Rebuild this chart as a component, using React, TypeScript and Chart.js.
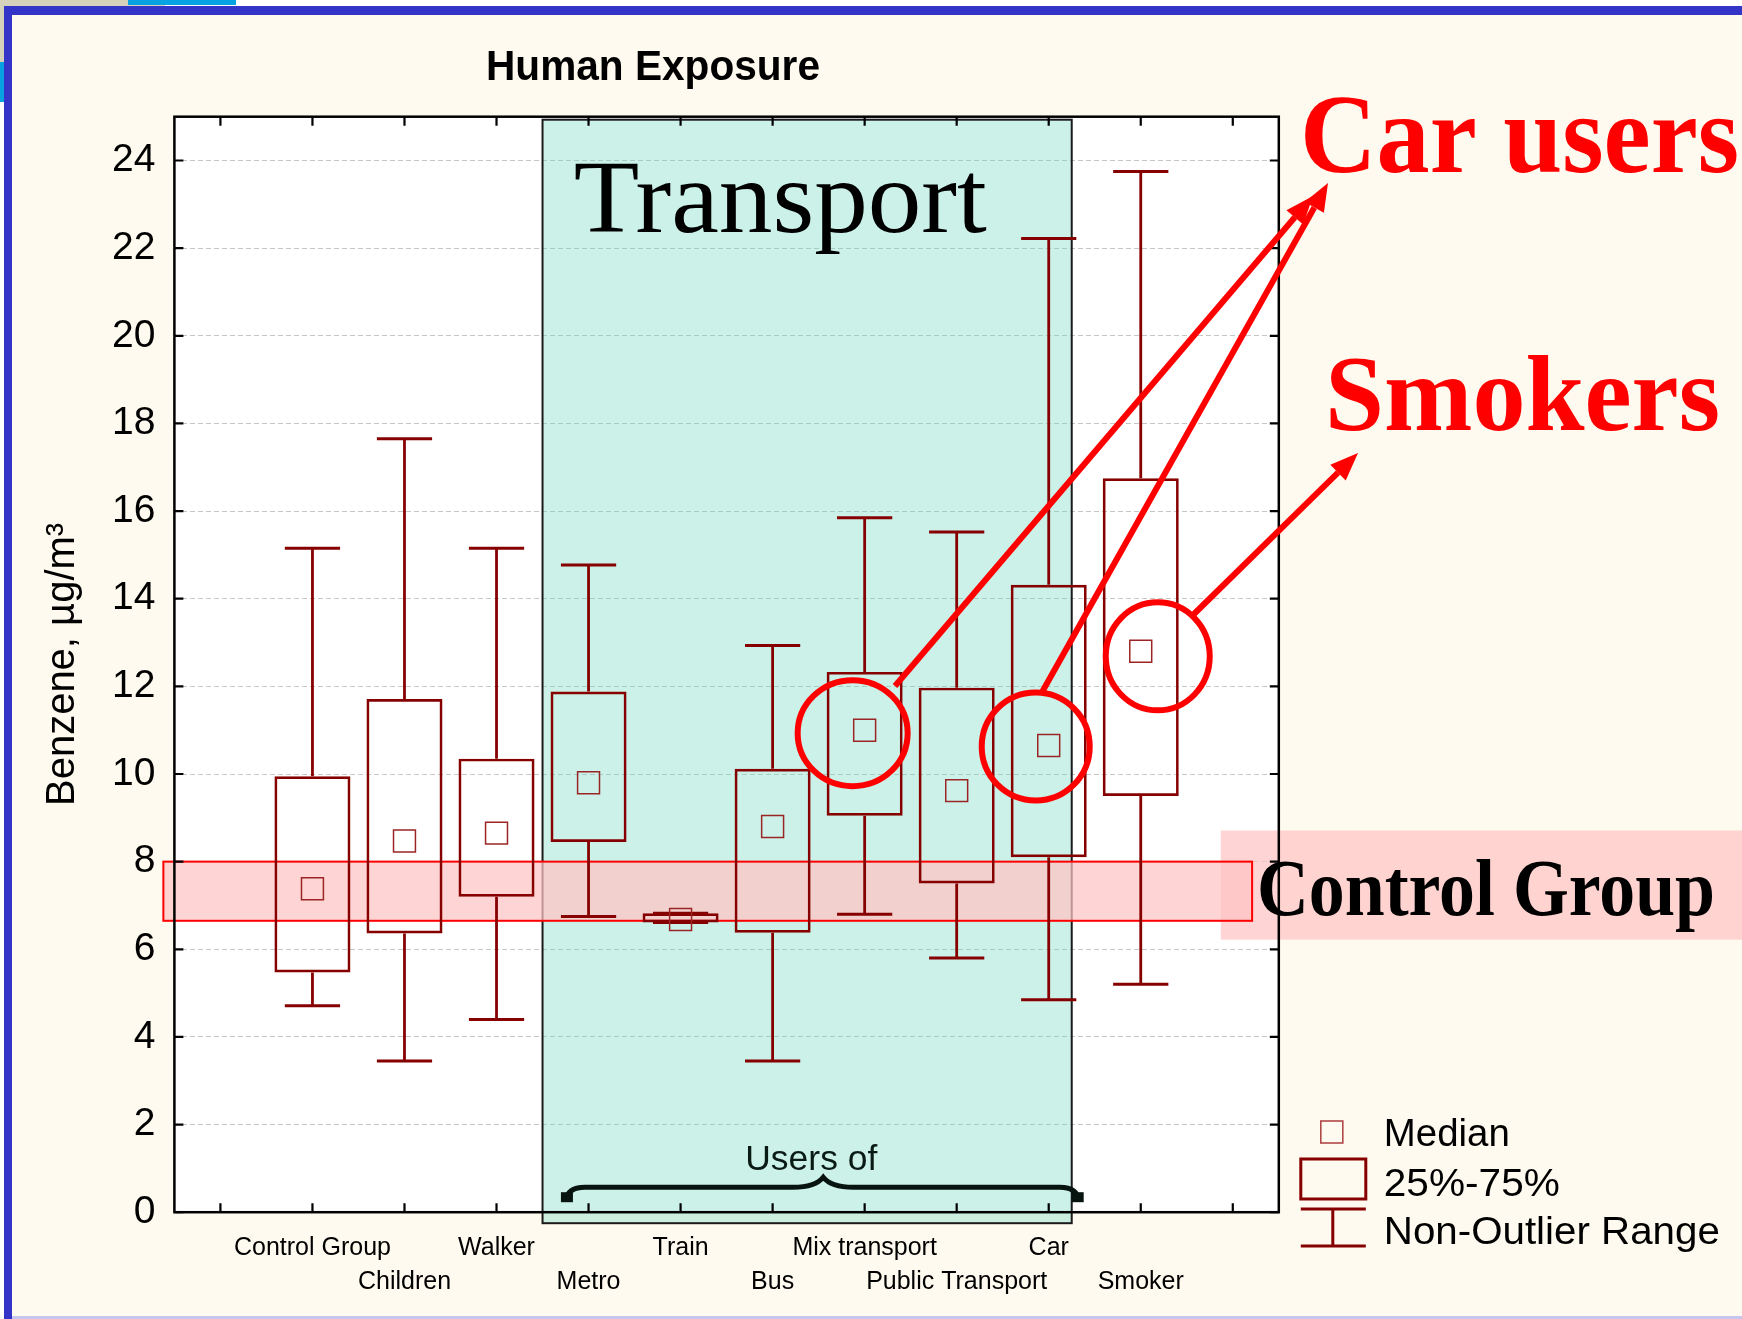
import React, { useEffect, useRef } from 'react';
import { Chart, registerables } from 'chart.js';

Chart.register(...registerables);

// ---------------- data ----------------
const categories = [
  'Control Group',
  'Children',
  'Walker',
  'Metro',
  'Train',
  'Bus',
  'Mix transport',
  'Public Transport',
  'Car',
  'Smoker',
];
const whiskerLow = [4.71, 3.45, 4.4, 6.75, 6.61, 3.45, 6.8, 5.8, 4.85, 5.2];
const quartile1 = [5.47, 6.36, 7.2, 8.45, 6.61, 6.38, 9.05, 7.5, 8.1, 9.5];
const medians = [7.38, 8.47, 8.65, 9.8, 6.68, 8.8, 11.0, 9.62, 10.65, 12.8];
const quartile3 = [9.95, 11.71, 10.35, 11.88, 6.82, 10.12, 12.33, 11.97, 14.32, 16.75];
const whiskerHigh = [15.15, 17.65, 15.15, 14.77, 6.82, 12.93, 15.85, 15.52, 22.22, 23.75];

const yMin = 0;
const yMax = 25;
const yStep = 2;

// control-group reference band (µg/m³) and transport span (category units)
const controlBand = [6.65, 8.0];
const transportSpan = [3.5, 9.25];
// highlighted groups (category index) for red circles
const highlighted = [6, 8, 9];

// ---------------- styles ----------------
const SANS = '"Liberation Sans", Arial, Helvetica, sans-serif';
const SERIF = '"Liberation Serif", "Times New Roman", Times, serif';
const BOX = '#860000';
const MED = '#9b2525';
const RED = '#ff0000';
const PINK = 'rgba(255,196,196,0.72)';
const CAP = 0.3;

function fitText(
  ctx: CanvasRenderingContext2D,
  text: string,
  x: number,
  y: number,
  width: number,
  font: string,
  color: string
) {
  ctx.save();
  ctx.font = font;
  ctx.fillStyle = color;
  ctx.textAlign = 'left';
  ctx.textBaseline = 'alphabetic';
  const w = ctx.measureText(text).width;
  ctx.translate(x, y);
  ctx.scale(width / w, 1);
  ctx.fillText(text, 0, 0);
  ctx.restore();
}

function arrow(ctx: CanvasRenderingContext2D, x1: number, y1: number, x2: number, y2: number) {
  const ang = Math.atan2(y2 - y1, x2 - x1);
  const L = 28;
  const W = 11;
  const bx = x2 - L * Math.cos(ang);
  const by = y2 - L * Math.sin(ang);
  ctx.beginPath();
  ctx.moveTo(x1, y1);
  ctx.lineTo(bx, by);
  ctx.stroke();
  ctx.beginPath();
  ctx.moveTo(x2, y2);
  ctx.lineTo(bx + W * Math.sin(ang), by - W * Math.cos(ang));
  ctx.lineTo(bx - W * Math.sin(ang), by + W * Math.cos(ang));
  ctx.closePath();
  ctx.fill();
}

const decorPlugin = {
  id: 'decor',
  beforeDraw(chart: any) {
    const { ctx, width, height, chartArea: ca } = chart;
    ctx.save();
    ctx.fillStyle = '#ffffff';
    ctx.fillRect(0, 0, width, height);
    // slide remnants top-left
    ctx.fillStyle = '#d5d1bb';
    ctx.fillRect(0, 0, 165, 6);
    ctx.fillRect(0, 0, 4, 64);
    ctx.fillStyle = '#06a2e2';
    ctx.fillRect(128, 0, 108, 5);
    ctx.fillRect(0, 62, 4, 40);
    // slide background
    ctx.fillStyle = '#fffaef';
    ctx.fillRect(12, 15, width - 12, height - 18);
    ctx.fillStyle = '#3434c8';
    ctx.fillRect(4, 6, width - 4, 9);
    ctx.fillRect(4, 6, 8, height - 6);
    ctx.fillStyle = '#c6c6ee';
    ctx.fillRect(12, height - 3, width - 12, 3);
    // plot area
    ctx.fillStyle = '#ffffff';
    ctx.fillRect(ca.left, ca.top, ca.width, ca.height);
    ctx.restore();
  },
  beforeDatasetsDraw(chart: any) {
    const { ctx, chartArea: ca, scales } = chart;
    const xs = scales.x;
    const ys = scales.y;
    ctx.save();
    // transport shaded region
    const tx1 = xs.getPixelForValue(transportSpan[0]);
    const tx2 = xs.getPixelForValue(transportSpan[1]);
    const ty1 = ca.top + 3;
    const ty2 = ca.bottom + 11;
    ctx.fillStyle = 'rgba(110,215,195,0.36)';
    ctx.fillRect(tx1, ty1, tx2 - tx1, ty2 - ty1);
    ctx.strokeStyle = '#1a1a1a';
    ctx.lineWidth = 2;
    ctx.strokeRect(tx1, ty1, tx2 - tx1, ty2 - ty1);
    // Transport label
    fitText(ctx, 'Transport', xs.getPixelForValue(3.84), ys.getPixelForValue(22.38), 413, `104px ${SERIF}`, '#000');
    // right pink band behind "Control Group"
    const ry1 = ys.getPixelForValue(8.71);
    const ry2 = ys.getPixelForValue(6.22);
    const rx1 = xs.getPixelForValue(10.87);
    ctx.fillStyle = PINK;
    ctx.fillRect(rx1, ry1, chart.width - rx1, ry2 - ry1);
    // control group band
    const bx1 = xs.getPixelForValue(-0.62);
    const bx2 = xs.getPixelForValue(11.21);
    const by1 = ys.getPixelForValue(controlBand[1]);
    const by2 = ys.getPixelForValue(controlBand[0]);
    ctx.fillStyle = PINK;
    ctx.fillRect(bx1, by1, bx2 - bx1, by2 - by1);
    ctx.strokeStyle = RED;
    ctx.lineWidth = 2;
    ctx.strokeRect(bx1, by1, bx2 - bx1, by2 - by1);
    ctx.restore();
  },
  afterDatasetsDraw(chart: any) {
    const { ctx, chartArea: ca, scales } = chart;
    const xs = scales.x;
    const ys = scales.y;
    ctx.save();
    // frame
    ctx.strokeStyle = '#000';
    ctx.lineWidth = 2.5;
    ctx.strokeRect(ca.left, ca.top, ca.width, ca.height);
    // inward ticks
    ctx.lineWidth = 2.2;
    ctx.beginPath();
    ys.ticks.forEach((t: any) => {
      const y = ys.getPixelForValue(t.value);
      ctx.moveTo(ca.left, y);
      ctx.lineTo(ca.left + 9, y);
      ctx.moveTo(ca.right - 9, y);
      ctx.lineTo(ca.right, y);
    });
    xs.ticks.forEach((t: any) => {
      const x = xs.getPixelForValue(t.value);
      ctx.moveTo(x, ca.top);
      ctx.lineTo(x, ca.top + 9);
      ctx.moveTo(x, ca.bottom - 9);
      ctx.lineTo(x, ca.bottom);
    });
    ctx.stroke();

    // brace "Users of"
    const L = xs.getPixelForValue(3.7);
    const R = xs.getPixelForValue(9.38);
    const P = xs.getPixelForValue(6.55);
    const arm = ca.bottom - 25;
    const peak = ca.bottom - 35;
    const end = ca.bottom - 12;
    ctx.strokeStyle = '#07140f';
    ctx.fillStyle = '#07140f';
    ctx.lineWidth = 5;
    ctx.beginPath();
    ctx.moveTo(L + 6, end);
    ctx.quadraticCurveTo(L + 6, arm, L + 24, arm);
    ctx.lineTo(P - 30, arm);
    ctx.quadraticCurveTo(P - 8, arm, P, peak);
    ctx.quadraticCurveTo(P + 8, arm, P + 30, arm);
    ctx.lineTo(R - 24, arm);
    ctx.quadraticCurveTo(R - 6, arm, R - 6, end);
    ctx.stroke();
    ctx.fillRect(L, end - 8, 12, 10);
    ctx.fillRect(R - 12, end - 8, 12, 10);
    fitText(ctx, 'Users of', xs.getPixelForValue(6.42) - 66, ca.bottom - 42, 132, `35px ${SANS}`, '#0a1a14');

    // red circles around highlighted medians
    const offs = [
      [-12, 3, 55, 53],
      [-13, 1, 54, 54],
      [17, 5, 52, 54],
    ];
    ctx.strokeStyle = RED;
    ctx.fillStyle = RED;
    ctx.lineWidth = 6;
    highlighted.forEach((ci, k) => {
      const cx = xs.getPixelForValue(ci + 1) + offs[k][0];
      const cy = ys.getPixelForValue(medians[ci]) + offs[k][1];
      ctx.beginPath();
      ctx.ellipse(cx, cy, offs[k][2], offs[k][3], 0, 0, Math.PI * 2);
      ctx.stroke();
    });
    // arrows
    ctx.lineWidth = 6;
    ctx.lineCap = 'butt';
    arrow(ctx, 895, 686, 1313, 196);
    arrow(ctx, 1041, 694, 1328, 183);
    arrow(ctx, 1194, 614, 1358, 453);

    // titles / annotations
    fitText(ctx, 'Human Exposure', 486, 80, 334, `bold 42px ${SANS}`, '#000');
    fitText(ctx, 'Car users', 1300, 172, 439, `bold 112px ${SERIF}`, RED);
    fitText(ctx, 'Smokers', 1325, 430, 395, `bold 109px ${SERIF}`, RED);
    fitText(ctx, 'Control Group', 1257, 915, 458, `bold 80px ${SERIF}`, '#000');

    // legend
    const lx = ca.right + 22;
    ctx.strokeStyle = '#b04848';
    ctx.lineWidth = 1.6;
    ctx.strokeRect(lx + 20, 1121, 22, 22);
    ctx.strokeStyle = BOX;
    ctx.lineWidth = 3;
    ctx.strokeRect(lx, 1159, 65, 40);
    ctx.beginPath();
    ctx.moveTo(lx, 1209);
    ctx.lineTo(lx + 65, 1209);
    ctx.moveTo(lx, 1246);
    ctx.lineTo(lx + 65, 1246);
    ctx.moveTo(lx + 32, 1209);
    ctx.lineTo(lx + 32, 1246);
    ctx.stroke();
    fitText(ctx, 'Median', lx + 83, 1146, 126, `38px ${SANS}`, '#000');
    fitText(ctx, '25%-75%', lx + 83, 1196, 176, `38px ${SANS}`, '#000');
    fitText(ctx, 'Non-Outlier Range', lx + 83, 1244, 336, `38px ${SANS}`, '#000');
    ctx.restore();
  },
};

function xLabel(v: number): string | string[] {
  const i = Math.round(v) - 1;
  if (i < 0 || i >= categories.length) return ['', ''];
  return i % 2 === 0 ? [categories[i], ''] : ['', categories[i]];
}

export default function App() {
  const ref = useRef<HTMLCanvasElement>(null);

  useEffect(() => {
    document.body.style.margin = '0';
    const canvas = ref.current;
    if (!canvas) return;

    const pos = categories.map((_, i) => i + 1);
    const boxData = pos.map((x, i) => ({ x, y: [quartile1[i], quartile3[i]] }));
    const whiskerData: any[] = [];
    const capData: any[] = [];
    pos.forEach((x, i) => {
      whiskerData.push({ x, y: whiskerLow[i] }, { x, y: quartile1[i] }, { x, y: null });
      whiskerData.push({ x, y: quartile3[i] }, { x, y: whiskerHigh[i] }, { x, y: null });
      capData.push({ x: x - CAP, y: whiskerHigh[i] }, { x: x + CAP, y: whiskerHigh[i] }, { x, y: null });
      capData.push({ x: x - CAP, y: whiskerLow[i] }, { x: x + CAP, y: whiskerLow[i] }, { x, y: null });
    });
    const medianData = pos.map((x, i) => ({ x, y: medians[i] }));
    // tick slots: one empty slot either side of the categories
    const xTickValues = [0, ...pos, categories.length + 1];

    const chart = new Chart(canvas, {
      type: 'bar',
      data: {
        datasets: [
          {
            type: 'line',
            label: 'Median',
            data: medianData,
            showLine: false,
            pointStyle: 'rect',
            pointRadius: 15.5,
            pointBorderWidth: 1.5,
            pointBorderColor: MED,
            pointBackgroundColor: 'rgba(0,0,0,0)',
          } as any,
          {
            type: 'bar',
            label: '25%-75%',
            data: boxData,
            backgroundColor: 'rgba(0,0,0,0)',
            borderColor: BOX,
            borderWidth: 2.7,
            borderSkipped: false,
            barPercentage: 0.826,
            categoryPercentage: 1,
          } as any,
          {
            type: 'line',
            label: 'Whiskers',
            data: whiskerData,
            borderColor: BOX,
            borderWidth: 2.8,
            pointRadius: 0,
            fill: false,
            spanGaps: false,
          } as any,
          {
            type: 'line',
            label: 'Caps',
            data: capData,
            borderColor: BOX,
            borderWidth: 3,
            pointRadius: 0,
            fill: false,
            spanGaps: false,
          } as any,
        ],
      },
      options: {
        responsive: false,
        devicePixelRatio: 1,
        animation: false,
        events: [],
        layout: { padding: { top: 116.7, right: 463.2, left: 0, bottom: 0 } },
        plugins: {
          legend: { display: false },
          tooltip: { enabled: false },
          title: { display: false },
        },
        scales: {
          x: {
            type: 'linear',
            min: -0.5,
            max: categories.length + 1.5,
            offset: false,
            grid: { display: false, drawTicks: false, offset: false },
            border: { display: false },
            afterBuildTicks: (s: any) => {
              s.ticks = xTickValues.map((v) => ({ value: v }));
            },
            ticks: {
              autoSkip: false,
              maxRotation: 0,
              minRotation: 0,
              padding: 19,
              color: '#000',
              font: { family: SANS, size: 25, lineHeight: 1.36 },
              callback: (v: any) => xLabel(Number(v)),
            },
            afterFit: (s: any) => {
              s.height = 106.8;
            },
          },
          y: {
            type: 'linear',
            min: yMin,
            max: yMax,
            grid: { color: '#c6c6c6', lineWidth: 1, drawTicks: false },
            border: { display: false, dash: [5, 3] },
            ticks: {
              stepSize: yStep,
              includeBounds: false,
              padding: 19,
              color: '#000',
              font: { family: SANS, size: 39 },
            },
            title: {
              display: true,
              text: 'Benzene, µg/m³',
              color: '#000',
              font: { family: SANS, size: 40 },
              padding: { top: 39, bottom: 0 },
            },
            afterFit: (s: any) => {
              s.width = 174.4;
            },
          },
        },
      } as any,
      plugins: [decorPlugin],
    });

    return () => chart.destroy();
  }, []);

  return <canvas ref={ref} width={1742} height={1319} style={{ display: 'block' }} />;
}
